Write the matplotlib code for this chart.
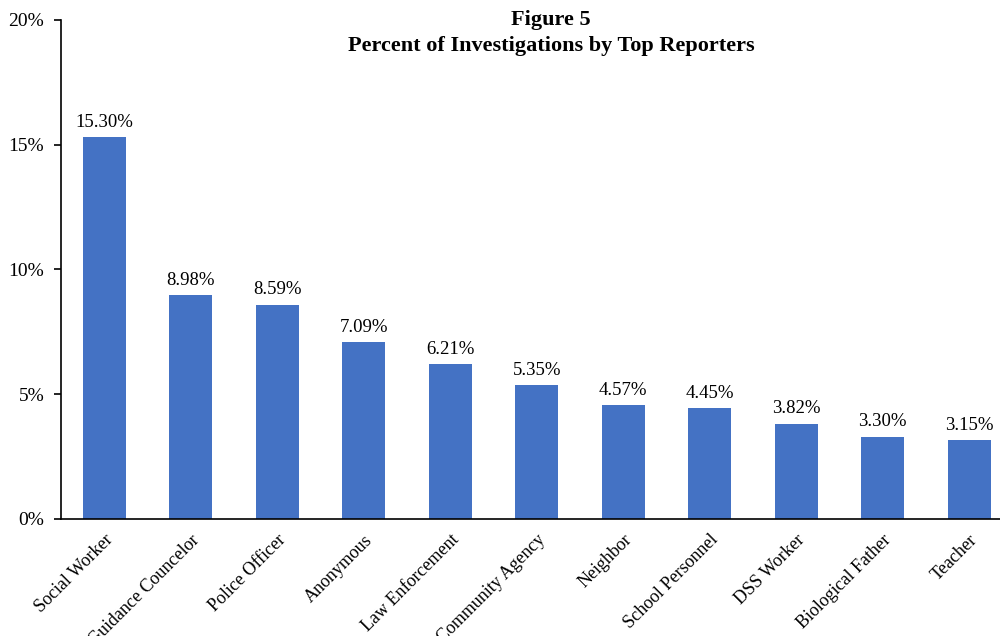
import matplotlib.pyplot as plt
from matplotlib.ticker import FuncFormatter

plt.rcParams['font.family'] = ['Liberation Serif', 'DejaVu Serif']

reporters = ['Social Worker', 'Guidance Councelor', 'Police Officer', 'Anonymous',
             'Law Enforcement', 'Community Agency', 'Neighbor', 'School Personnel',
             'DSS Worker', 'Biological Father', 'Teacher']
percents = [15.30, 8.98, 8.59, 7.09, 6.21, 5.35, 4.57, 4.45, 3.82, 3.30, 3.15]

fig = plt.figure(figsize=(10, 6.36), dpi=100)
ax = fig.add_axes([0.061, 0.184, 0.939, 0.7846])

x = list(range(len(reporters)))
bars = ax.bar(x, percents, width=0.5, color='#4472C4')

for xi, v in zip(x, percents):
    ax.text(xi, v + 0.25, f'{v:.2f}%', ha='center', va='bottom', fontsize=13.5)

ax.set_ylim(0, 20)
ax.set_xlim(-0.5, 10.355)
ax.set_yticks([0, 5, 10, 15, 20])
ax.yaxis.set_major_formatter(FuncFormatter(lambda v, p: f'{v:.0f}%'))
ax.tick_params(axis='y', labelsize=14, length=5, width=1.2, pad=7)
ax.set_xticks(x)
ax.set_xticklabels(reporters, rotation=45, ha='right', rotation_mode='anchor', fontsize=13)
ax.tick_params(axis='x', length=0, pad=9)

for s in ['top', 'right']:
    ax.spines[s].set_visible(False)
ax.spines['left'].set_linewidth(1.2)
ax.spines['bottom'].set_linewidth(1.2)

fig.text(0.551, 0.985, 'Figure 5\nPercent of Investigations by Top Reporters',
         ha='center', va='top', fontsize=16, fontweight='bold', linespacing=1.45)

fig.savefig('out.png', dpi=100)
